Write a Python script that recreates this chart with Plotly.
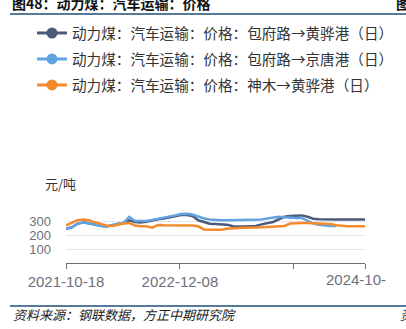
import pandas as pd
import plotly.graph_objects as go

# Weekly-ish samples of truck freight prices (元/吨)
dates = pd.date_range("2021-10-18", periods=53, freq="21D")

baofu_huanghua = [245, 255, 280, 290, 284, 274, 266, 260, 270, 278, 284, 305, 292, 290,
                  294, 305, 312, 318, 326, 335, 342, 342, 336, 305, 290, 280, 278, 278,
                  274, 262, 260, 261, 263, 265, 276, 282, 293, 312, 330, 335, 338, 340,
                  330, 316, 312, 310, 310, 310, 310, 310, 310, 310, 310]
baofu_jingtang = [245, 255, 280, 290, 284, 274, 266, 260, 272, 280, 286, 330, 300, 298,
                  300, 308, 315, 322, 330, 340, 350, 352, 346, 330, 318, 310, 306, 306,
                  306, 306, 306, 306, 306, 306, 310, 318, 322, 330, 326, 322, 322, 322,
                  300, 282, 274, 268, 265, 264, None, None, None, None, None]
shenmu_huanghua = [268, 288, 305, 310, 305, 292, 282, 268, 265, 275, 282, 286, 268, 262,
                   262, 252, 272, 270, 270, 270, 268, 268, 268, 262, 240, 238, 238, 238,
                   245, 250, 250, 252, 252, 252, 255, 258, 260, 262, 265, 282, 286, 286,
                   286, 284, 280, 280, 278, 270, 264, 263, 263, 263, 263]

series_names = [
    "动力煤：汽车运输：价格：包府路→黄骅港（日）",
    "动力煤：汽车运输：价格：包府路→京唐港（日）",
    "动力煤：汽车运输：价格：神木→黄骅港（日）",
]
series_values = [baofu_huanghua, baofu_jingtang, shenmu_huanghua]
colors = ["#4b5a78", "#62a3e0", "#f38a2c"]

tick_dates = ["2021-10-18", "2022-12-08", "2024-01-28", str(dates[-1].date())]
tick_labels = ["2021-10-18", "2022-12-08", "", ""]
y_ticks = [0, 100, 200, 300, 400]
y_labels = ["", "100", "200", "300", ""]

W, H = 406, 329
L, R, T, B = 66, 365, 207, 263   # plot box in pixels
PAPER_TOP = 0                    # paper spans the full height above the x axis


def px(x):
    return (x - L) / (R - L)


def py(y):
    return (B - y) / (B - PAPER_TOP)


fig = go.Figure()
for name, vals, col in zip(series_names, series_values, colors):
    fig.add_trace(go.Scatter(x=dates, y=vals, mode="lines", name=name,
                             line=dict(color=col, width=2.5), showlegend=False,
                             connectgaps=False))
    # legend entry with a round marker on the line
    fig.add_trace(go.Scatter(x=[None], y=[None], mode="lines+markers", name=name,
                             line=dict(color=col, width=3),
                             marker=dict(color=col, size=11), legendgroup=name))

axis_font = dict(family="Liberation Sans, Arial, sans-serif", size=15, color="#6e7079")

fig.update_layout(
    width=W, height=H,
    margin=dict(l=L, r=W - R, t=PAPER_TOP, b=H - B, autoexpand=False),
    paper_bgcolor="white", plot_bgcolor="white",
    showlegend=True,
    legend=dict(x=px(32), y=py(17), xanchor="left", yanchor="top",
                font=dict(family="Noto Sans CJK SC", size=14.6, color="#333333"),
                tracegroupgap=4, itemwidth=30, bgcolor="rgba(0,0,0,0)"),
    xaxis=dict(type="date", range=[dates[0], dates[-1]],
               tickmode="array", tickvals=tick_dates, ticktext=tick_labels,
               showgrid=False, showline=True, linecolor="#6e7079", linewidth=1,
               ticks="outside", ticklen=5, tickcolor="#6e7079",
               tickfont=axis_font, zeroline=False),
    yaxis=dict(domain=[0, py(T)], range=[0, 400], tickmode="array",
               tickvals=y_ticks, ticktext=y_labels,
               showgrid=True, gridcolor="#e0e6f1", gridwidth=1, zeroline=False,
               showline=False, ticks="", ticklabelstandoff=14,
               tickfont=dict(family="Liberation Sans, Arial, sans-serif", size=13,
                             color="#6e7079")),
)

annotations = [
    dict(text="<b>图48：动力煤：汽车运输：价格</b>", x=px(10), y=py(3), xanchor="left",
         yanchor="middle", font=dict(family="Noto Sans CJK SC", size=14, color="#111111")),
    dict(text="<b>图</b>", x=px(394), y=py(3), xanchor="left", yanchor="middle",
         font=dict(family="Noto Sans CJK SC", size=14, color="#111111")),
    dict(text="元/吨", x=px(60), y=py(183), xanchor="center", yanchor="middle",
         font=dict(family="Noto Sans CJK SC", size=13, color="#333333")),
    dict(text="2024-10-", x=px(324), y=py(279), xanchor="left", yanchor="middle",
         font=axis_font),
    dict(text="资料来源：钢联数据，方正中期研究院", x=px(11), y=py(314), xanchor="left",
         yanchor="middle",
         font=dict(family="Noto Sans CJK SC", size=13, color="#222222", style="italic")),
    dict(text="资", x=px(398), y=py(314), xanchor="left", yanchor="middle",
         font=dict(family="Noto Sans CJK SC", size=13, color="#222222", style="italic")),
]
for a in annotations:
    a.update(xref="paper", yref="paper", showarrow=False)
fig.update_layout(annotations=annotations)

rule = dict(color="#1f4e79", width=1.5)
fig.add_shape(type="line", xref="paper", yref="paper", x0=px(10), x1=px(406),
              y0=py(14), y1=py(14), line=rule)
fig.add_shape(type="line", xref="paper", yref="paper", x0=px(10), x1=px(406),
              y0=py(306), y1=py(306), line=rule)

fig.write_html("out.html")
